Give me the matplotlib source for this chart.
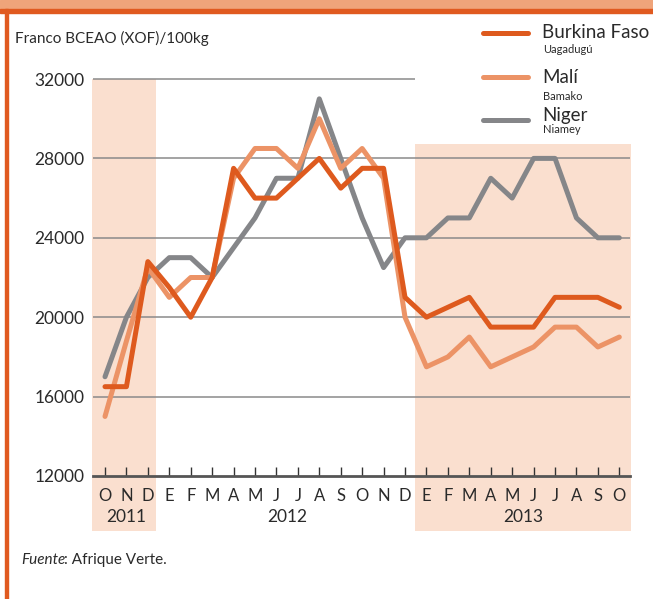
import numpy as np
import matplotlib
matplotlib.use('Agg')
import matplotlib.pyplot as plt
from matplotlib.patches import Rectangle
from matplotlib.lines import Line2D
from matplotlib.transforms import blended_transform_factory

plt.rcParams['font.family'] = ['Lato', 'DejaVu Sans']

# data (FCFA per 100 kg), Oct 2011 .. Oct 2013
months = ['O', 'N', 'D', 'E', 'F', 'M', 'A', 'M', 'J', 'J', 'A', 'S', 'O',
          'N', 'D', 'E', 'F', 'M', 'A', 'M', 'J', 'J', 'A', 'S', 'O']
years = ['2011', '2012', '2013']
year_pos = [1, 8.5, 19.5]
burkina = [16500, 16500, 22800, 21500, 20000, 22000, 27500, 26000, 26000, 27000, 28000, 26500, 27500,
           27500, 21000, 20000, 20500, 21000, 19500, 19500, 19500, 21000, 21000, 21000, 20500]
mali = [15000, 18800, 22500, 21000, 22000, 22000, 27000, 28500, 28500, 27500, 30000, 27500, 28500,
        27000, 20000, 17500, 18000, 19000, 17500, 18000, 18500, 19500, 19500, 18500, 19000]
niger = [17000, 20000, 22000, 23000, 23000, 22000, 23500, 25000, 27000, 27000, 31000, 28000, 25000,
         22500, 24000, 24000, 25000, 25000, 27000, 26000, 28000, 28000, 25000, 24000, 24000]
yticks = [12000, 16000, 20000, 24000, 28000, 32000]

c_bf = '#de5a1e'
c_ml = '#ec9366'
c_ng = '#858689'
c_shade = '#fadfcf'
c_txt = '#2a2a2a'

W, H = 653, 599
fig = plt.figure(figsize=(W / 100, H / 100), dpi=100)

# frame decoration
fig.patches.append(Rectangle((0, 1 - 9 / H), 1, 9 / H, transform=fig.transFigure,
                             color='#efa47a', zorder=0))
fig.patches.append(Rectangle((0, 1 - 13 / H), 1, 4.5 / H, transform=fig.transFigure,
                             color='#e05a20', zorder=0))
fig.patches.append(Rectangle((5 / W, 0), 2.6 / W, 1 - 9 / H, transform=fig.transFigure,
                             color='#e05a20', zorder=0))

x0, x1 = 93, 630
xi0 = 105
dx = 21.43
ax = fig.add_axes([x0 / W, 1 - 476 / H, (x1 - x0) / W, (476 - 79) / H])
ax.set_xlim((x0 - xi0) / dx, (x1 - xi0) / dx)
ax.set_ylim(12000, 32000)
ax.patch.set_alpha(0)

x = np.arange(len(months))
trans = blended_transform_factory(ax.transData, fig.transFigure)

# shaded periods
ax.add_patch(Rectangle((-0.59, 1 - 530.5 / H), 2.96, (530.5 - 79) / H, transform=trans,
                       color=c_shade, clip_on=False, zorder=0, lw=0))
ax.add_patch(Rectangle((14.48, 1 - 530.5 / H), 10.05, (530.5 - 144) / H, transform=trans,
                       color=c_shade, clip_on=False, zorder=0, lw=0))

# grid
xl = ax.get_xlim()
for v in yticks[1:-1]:
    ax.plot(xl, [v, v], color='#8a8a8a', lw=1.1, zorder=1, solid_capstyle='butt')
ax.plot([xl[0], 14.48], [32000, 32000], color='#8a8a8a', lw=1.1, zorder=1,
        solid_capstyle='butt', clip_on=False)

for s in ['top', 'right', 'left']:
    ax.spines[s].set_visible(False)
ax.spines['bottom'].set_color('#555555')
ax.spines['bottom'].set_linewidth(2)
ax.spines['bottom'].set_zorder(5)

lw = 3.6
ax.plot(x, niger, color=c_ng, lw=lw, solid_capstyle='round', solid_joinstyle='round', zorder=3)
ax.plot(x, mali, color=c_ml, lw=lw, solid_capstyle='round', solid_joinstyle='round', zorder=4)
ax.plot(x, burkina, color=c_bf, lw=lw, solid_capstyle='round', solid_joinstyle='round', zorder=4.5)

ax.set_yticks(yticks)
ax.set_yticklabels([str(v) for v in yticks])
ax.tick_params(axis='y', length=0, pad=6, labelsize=12.5, labelcolor=c_txt)
ax.set_xticks(x)
ax.set_xticklabels([])
ax.tick_params(axis='x', direction='in', length=6.5, width=1, color='#333333')

for i, m in enumerate(months):
    ax.text(i, 1 - 496 / H, m, transform=trans, ha='center', va='center',
            fontsize=12, color=c_txt)
for p, yr in zip(year_pos, years):
    ax.text(p, 1 - 517 / H, yr, transform=trans, ha='center', va='center',
            fontsize=12.5, color=c_txt)

# titles and notes
fig.text(15 / W, 1 - 43 / H, 'Franco BCEAO (XOF)/100kg', fontsize=11, color=c_txt,
         va='baseline')
fig.text(21 / W, 1 - 564 / H, 'Fuente', fontsize=11, style='italic', color=c_txt,
         va='baseline')
fig.text(64 / W, 1 - 564 / H, ': Afrique Verte.', fontsize=11, color=c_txt, va='baseline')

# legend
leg = [(c_bf, 'Burkina Faso', 'Uagadugú', 33, 38, 53),
       (c_ml, 'Malí', 'Bamako', 77, 83, 100),
       (c_ng, 'Niger', 'Niamey', 119.5, 121, 133)]
for col, name, city, ly, ny, cy in leg:
    fig.add_artist(Line2D([483 / W, 528 / W], [1 - ly / H, 1 - ly / H], color=col, lw=lw,
                          solid_capstyle='round', transform=fig.transFigure))
    fig.text(542 / W, 1 - ny / H, name, fontsize=13.5, color=c_txt, va='baseline')
    fig.text(543 / W, 1 - cy / H, city, fontsize=8, color=c_txt, va='baseline')

fig.savefig('out.png', dpi=100)
